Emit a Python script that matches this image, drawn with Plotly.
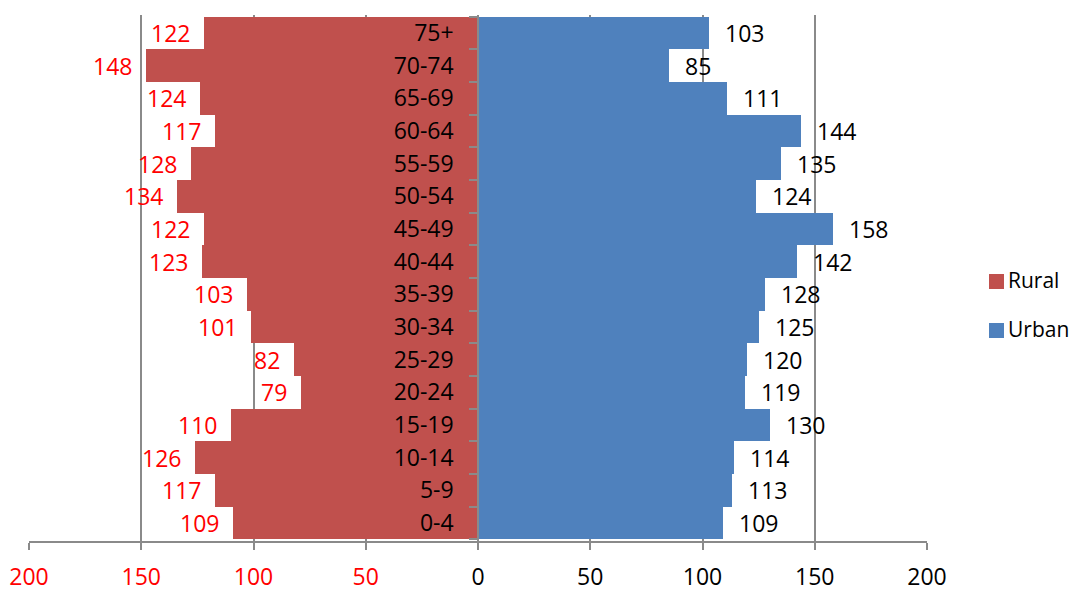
import plotly.graph_objects as go

age_groups = ["0-4", "5-9", "10-14", "15-19", "20-24", "25-29", "30-34", "35-39",
              "40-44", "45-49", "50-54", "55-59", "60-64", "65-69", "70-74", "75+"]
rural = [109, 117, 126, 110, 79, 82, 101, 103, 123, 122, 134, 128, 117, 124, 148, 122]
urban = [109, 113, 114, 130, 119, 120, 125, 128, 142, 158, 124, 135, 144, 111, 85, 103]
tick_vals = [-200, -150, -100, -50, 0, 50, 100, 150, 200]
series_names = ["Rural", "Urban"]
series_colors = ["#C0504D", "#4F81BD"]

FONT = "Open Sans"
FS = 23
GRID = "#8a8a8a"

fig = go.Figure()
fig.add_trace(go.Bar(y=age_groups, x=[-v for v in rural], orientation="h", name=series_names[0],
                     marker=dict(color=series_colors[0], line=dict(width=0)), showlegend=False))
fig.add_trace(go.Bar(y=age_groups, x=urban, orientation="h", name=series_names[1],
                     marker=dict(color=series_colors[1], line=dict(width=0)), showlegend=False))

annotations = []
for g, v in zip(age_groups, rural):
    annotations.append(dict(x=-v, y=g, xref="x", yref="y", text=str(v), showarrow=False,
                            xanchor="right", xshift=-12, font=dict(color="#FF0000", size=FS, family=FONT)))
for g, v in zip(age_groups, urban):
    annotations.append(dict(x=v, y=g, xref="x", yref="y", text=str(v), showarrow=False,
                            xanchor="left", xshift=14, font=dict(color="#000000", size=FS, family=FONT)))

# manual legend
shapes = []
legend_y = [0.4933, 0.4002]
for name, col, ly in zip(series_names, series_colors, legend_y):
    shapes.append(dict(type="rect", xref="paper", yref="paper", xsizemode="pixel", ysizemode="pixel",
                       xanchor=1.0774, yanchor=ly, x0=-7.5, x1=7.5, y0=-7.5, y1=7.5,
                       fillcolor=col, line=dict(width=0)))
    annotations.append(dict(x=1.0881, y=ly + 0.002, xref="paper", yref="paper", text=name,
                            showarrow=False, xanchor="left", yanchor="middle",
                            font=dict(color="#000000", size=21, family=FONT)))

tick_text = []
for t in tick_vals:
    if t < 0:
        tick_text.append('<span style="color:#FF0000">%d</span>' % abs(t))
    else:
        tick_text.append(str(t))

fig.update_layout(
    width=1071, height=590,
    margin=dict(l=21, r=152, t=7, b=57, autoexpand=False),
    paper_bgcolor="white", plot_bgcolor="white",
    barmode="overlay", bargap=0,
    font=dict(family=FONT, size=FS, color="#000000"),
    annotations=annotations,
    shapes=shapes,
    showlegend=False,
    xaxis=dict(range=[-200, 200], tickvals=tick_vals, ticktext=tick_text,
               showgrid=True, gridcolor=GRID, gridwidth=1.5, zeroline=False,
               showline=True, linecolor=GRID, linewidth=1.5,
               ticks="outside", ticklen=7, tickcolor=GRID, tickwidth=1.5,
               ticklabelstandoff=8, fixedrange=True, automargin=False),
    yaxis=dict(type="category", anchor="free", position=0.5,
               showline=True, linecolor=GRID, linewidth=1.5,
               ticks="outside", tickson="boundaries", ticklen=8, tickcolor=GRID, tickwidth=1.5,
               showgrid=False, zeroline=False, ticklabelstandoff=19, fixedrange=True,
               automargin=False),
)

fig.write_html("out.html")
